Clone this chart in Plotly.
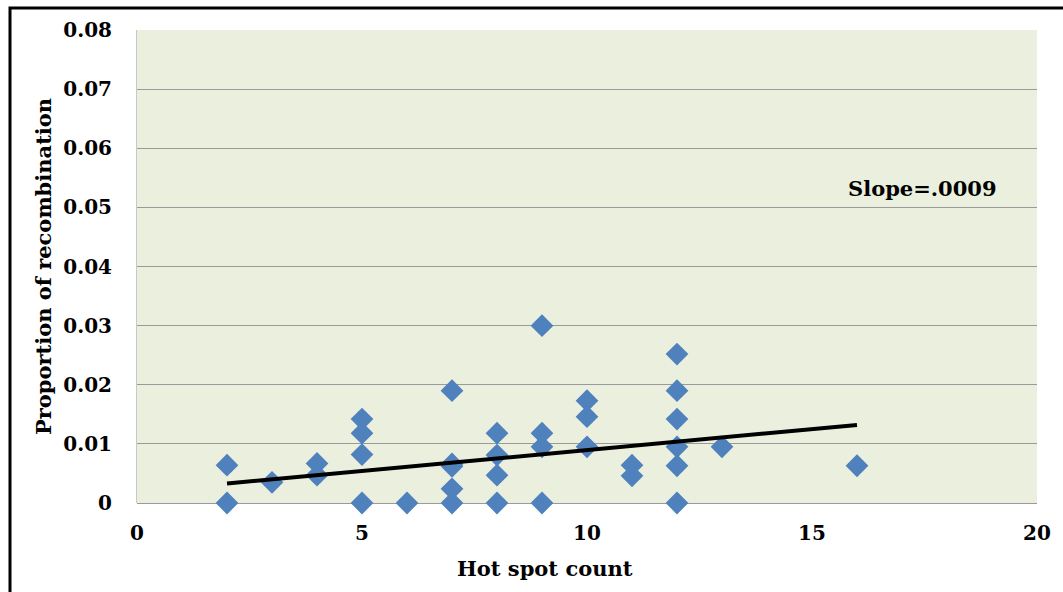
import plotly.graph_objects as go

# Data
hot_spot_count = [2, 2, 3, 4, 4, 5, 5, 5, 5, 6, 7, 7, 7, 7, 7,
                  8, 8, 8, 8, 9, 9, 9, 9, 10, 10, 10, 11, 11,
                  12, 12, 12, 12, 12, 12, 13, 16]
proportion = [0.0064, 0.0, 0.0035, 0.0067, 0.0047, 0.0142, 0.0118, 0.0082, 0.0, 0.0, 0.019, 0.0066, 0.0062, 0.0024, 0.0,
              0.0118, 0.0081, 0.0047, 0.0, 0.030, 0.0118, 0.0095, 0.0, 0.0173, 0.0146, 0.0095, 0.0064, 0.0046,
              0.0252, 0.019, 0.0142, 0.0095, 0.0063, 0.0, 0.0095, 0.0063]
trend_x = [2, 16]
trend_y = [0.0033, 0.0132]
x_ticks = [0, 5, 10, 15, 20]
y_ticks = [0, 0.01, 0.02, 0.03, 0.04, 0.05, 0.06, 0.07, 0.08]
y_tick_labels = ["0", "0.01", "0.02", "0.03", "0.04", "0.05", "0.06", "0.07", "0.08"]

FONT = "DejaVu Serif"

fig = go.Figure()
fig.add_trace(go.Scatter(
    x=hot_spot_count, y=proportion, mode="markers",
    marker=dict(symbol="diamond", size=17.5, color="#4F81BD",
                line=dict(width=0)),
    showlegend=False, cliponaxis=False))
fig.add_trace(go.Scatter(
    x=trend_x, y=trend_y, mode="lines",
    line=dict(color="black", width=4),
    showlegend=False))

fig.update_layout(
    width=1063, height=592,
    margin=dict(l=137, r=26, t=30, b=89),
    paper_bgcolor="white",
    plot_bgcolor="#EBEFDE",
    font=dict(family=FONT, color="black"),
    xaxis=dict(range=[0, 20], tickvals=x_ticks, showgrid=False,
               zeroline=False, showline=False, ticks="",
               tickfont=dict(family=FONT, size=20, color="black", weight="bold"),
               ticklabelstandoff=16),
    yaxis=dict(range=[0, 0.08], tickvals=y_ticks, ticktext=y_tick_labels,
               showgrid=True, gridcolor="#9A9A9A", gridwidth=1,
               zeroline=True, zerolinecolor="#9A9A9A", zerolinewidth=1,
               showline=True, linecolor="#C8C8C8", linewidth=1,
               ticks="", ticklabelstandoff=20,
               tickfont=dict(family=FONT, size=20, color="black", weight="bold"),
               title=dict(text="<b>Proportion of recombination</b>", standoff=5,
                          font=dict(family=FONT, size=21, color="black"))),
)

# x-axis title (offset left of plot centre, as in the reference)
fig.add_annotation(x=(545 - 137) / 900, y=(503 - 568) / 473,
                   xref="x domain", yref="y domain",
                   xanchor="center", yanchor="middle",
                   text="<b>Hot spot count</b>", showarrow=False,
                   font=dict(family=FONT, size=21, color="black"))

fig.add_annotation(x=(922 - 137) / 900, y=(503 - 188) / 473,
                   xref="x domain", yref="y domain",
                   xanchor="center", yanchor="middle",
                   text="<b>Slope=.0009</b>", showarrow=False,
                   font=dict(family=FONT, size=21, color="black"))

# Outer frame
fig.add_shape(type="rect", xref="paper", yref="paper",
              x0=(10 - 137) / 900, x1=(1075 - 137) / 900,
              y0=(503 - 610) / 473, y1=(503 - 8) / 473,
              line=dict(color="black", width=3), fillcolor="rgba(0,0,0,0)",
              layer="above")

fig.write_html("out.html")
